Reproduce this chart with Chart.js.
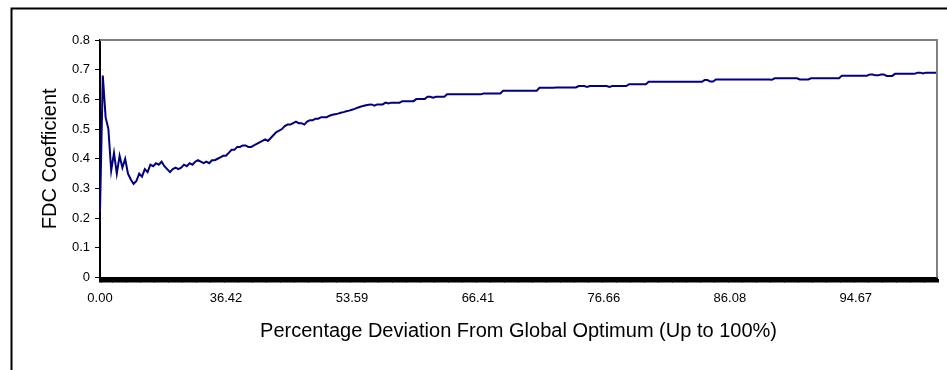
<!DOCTYPE html>
<html lang="en">

<head>
    <meta charset="UTF-8">
    <script src="https://cdn.jsdelivr.net/npm/chart.js@4.4.1/dist/chart.umd.min.js"></script>
    <title>FDC Coefficient</title>
    <style>
        body { margin: 0; background: #fff; overflow: hidden; }
        canvas { display: block; }
    </style>
</head>

<body>
    <canvas id="fdcChart" width="947" height="370"></canvas>

    <script>
        // x axis tick labels (percentage deviation), shown every tickStep points
        const tickLabels = ["0.00", "36.42", "53.59", "66.41", "76.66", "86.08", "94.67"];
        const tickStep = 45;

        // FDC coefficient
        const fdcValues = [
            0.22, 0.68, 0.54, 0.50, 0.36, 0.42, 0.35, 0.41, 0.37, 0.40,
            0.35, 0.33, 0.315, 0.325, 0.35, 0.34, 0.365, 0.355, 0.38, 0.375,
            0.385, 0.38, 0.39, 0.375, 0.365, 0.355, 0.365, 0.37, 0.365, 0.37,
            0.38, 0.375, 0.385, 0.38, 0.39, 0.395, 0.39, 0.385, 0.39, 0.385,
            0.395, 0.395, 0.40, 0.405, 0.41, 0.41, 0.42, 0.43, 0.43, 0.44,
            0.44, 0.445, 0.445, 0.44, 0.44, 0.445, 0.45, 0.455, 0.46, 0.465,
            0.46, 0.47, 0.48, 0.49, 0.495, 0.50, 0.51, 0.515, 0.515, 0.52,
            0.525, 0.52, 0.52, 0.515, 0.525, 0.53, 0.53, 0.535, 0.535, 0.54,
            0.54, 0.54, 0.545, 0.548, 0.55, 0.552, 0.555, 0.557, 0.56, 0.562,
            0.565, 0.568, 0.572, 0.575, 0.578, 0.58, 0.582, 0.583, 0.579, 0.583,
            0.583, 0.583, 0.589, 0.586, 0.589, 0.589, 0.589, 0.589, 0.594, 0.594,
            0.594, 0.594, 0.594, 0.601, 0.601, 0.601, 0.601, 0.609, 0.609, 0.606,
            0.609, 0.609, 0.609, 0.609, 0.617, 0.617, 0.617, 0.617, 0.617, 0.617,
            0.617, 0.617, 0.617, 0.617, 0.617, 0.617, 0.617, 0.62, 0.62, 0.62,
            0.62, 0.62, 0.62, 0.62, 0.629, 0.629, 0.629, 0.629, 0.629, 0.629,
            0.629, 0.629, 0.629, 0.629, 0.629, 0.629, 0.629, 0.639, 0.639, 0.639,
            0.639, 0.639, 0.639, 0.64, 0.64, 0.64, 0.64, 0.64, 0.64, 0.64,
            0.64, 0.645, 0.645, 0.645, 0.642, 0.645, 0.645, 0.645, 0.645, 0.645,
            0.645, 0.645, 0.642, 0.645, 0.645, 0.645, 0.645, 0.645, 0.645, 0.651,
            0.651, 0.651, 0.651, 0.651, 0.651, 0.651, 0.659, 0.659, 0.659, 0.659,
            0.659, 0.659, 0.659, 0.659, 0.659, 0.659, 0.659, 0.659, 0.659, 0.659,
            0.659, 0.659, 0.659, 0.659, 0.659, 0.659, 0.665, 0.665, 0.66, 0.66,
            0.667, 0.667, 0.667, 0.667, 0.667, 0.667, 0.667, 0.667, 0.667, 0.667,
            0.667, 0.667, 0.667, 0.667, 0.667, 0.667, 0.667, 0.667, 0.667, 0.667,
            0.666, 0.671, 0.671, 0.671, 0.671, 0.671, 0.671, 0.671, 0.671, 0.671,
            0.667, 0.667, 0.667, 0.667, 0.671, 0.671, 0.671, 0.671, 0.671, 0.671,
            0.671, 0.671, 0.671, 0.671, 0.671, 0.68, 0.68, 0.68, 0.68, 0.68,
            0.68, 0.68, 0.68, 0.68, 0.68, 0.684, 0.684, 0.681, 0.681, 0.684,
            0.684, 0.679, 0.679, 0.679, 0.686, 0.686, 0.686, 0.686, 0.686, 0.686,
            0.686, 0.686, 0.69, 0.69, 0.687, 0.69, 0.69, 0.69, 0.69, 0.69
        ];

        // one category per point, only every tickStep-th gets a visible label
        const xLabels = fdcValues.map(function (v, i) {
            return (i % tickStep === 0 && tickLabels[i / tickStep]) ? tickLabels[i / tickStep] : "";
        });

        const fontFamily = "'Liberation Sans', Arial, sans-serif";

        // outer frame + grey top/right edge of the plot area
        const frames = {
            id: "frames",
            beforeDraw(chart) {
                const ctx = chart.ctx;
                ctx.save();
                ctx.strokeStyle = "#000";
                ctx.lineWidth = 2;
                ctx.beginPath();
                ctx.moveTo(11.5, 370);
                ctx.lineTo(11.5, 8.5);
                ctx.lineTo(947, 8.5);
                ctx.stroke();
                ctx.restore();
            },
            afterDatasetsDraw(chart) {
                const a = chart.chartArea;
                const ctx = chart.ctx;
                ctx.save();
                ctx.strokeStyle = "#808080";
                ctx.lineWidth = 2;
                ctx.beginPath();
                ctx.moveTo(a.left, a.top);
                ctx.lineTo(a.right, a.top);
                ctx.lineTo(a.right, a.bottom);
                ctx.stroke();
                ctx.restore();
            }
        };

        new Chart("fdcChart", {
            type: "line",
            data: {
                labels: xLabels,
                datasets: [{
                    data: fdcValues,
                    borderColor: "#000080",
                    borderWidth: 2,
                    pointRadius: 0,
                    tension: 0,
                    fill: false
                }]
            },
            options: {
                responsive: false,
                animation: false,
                layout: {
                    padding: { left: 0, right: 10, top: 40, bottom: 0 }
                },
                plugins: {
                    legend: { display: false },
                    tooltip: { enabled: false }
                },
                scales: {
                    x: {
                        type: "category",
                        offset: false,
                        afterFit: function (scale) { scale.height = 92.5; },
                        border: { display: true, color: "#000", width: 2 },
                        grid: {
                            drawOnChartArea: false,
                            drawTicks: true,
                            tickLength: 5,
                            tickWidth: 3,
                            tickColor: "#000"
                        },
                        ticks: {
                            autoSkip: false,
                            maxRotation: 0,
                            padding: 8,
                            color: "#000",
                            font: { family: fontFamily, size: 13 }
                        },
                        title: {
                            display: true,
                            text: "Percentage Deviation From Global Optimum (Up to 100%)",
                            color: "#000",
                            font: { family: fontFamily, size: 20 },
                            padding: { top: 0, bottom: 27 }
                        }
                    },
                    y: {
                        min: 0,
                        max: 0.8,
                        afterFit: function (scale) { scale.width = 100; },
                        border: { display: true, color: "#000", width: 2 },
                        grid: {
                            drawOnChartArea: false,
                            drawTicks: true,
                            tickLength: 5,
                            tickColor: "#000"
                        },
                        ticks: {
                            stepSize: 0.1,
                            padding: 5,
                            color: "#000",
                            font: { family: fontFamily, size: 13 }
                        },
                        title: {
                            display: true,
                            text: "FDC Coefficient",
                            color: "#000",
                            font: { family: fontFamily, size: 20 },
                            padding: { top: 38, bottom: 0 }
                        }
                    }
                }
            },
            plugins: [frames]
        });
    </script>
</body>

</html>
